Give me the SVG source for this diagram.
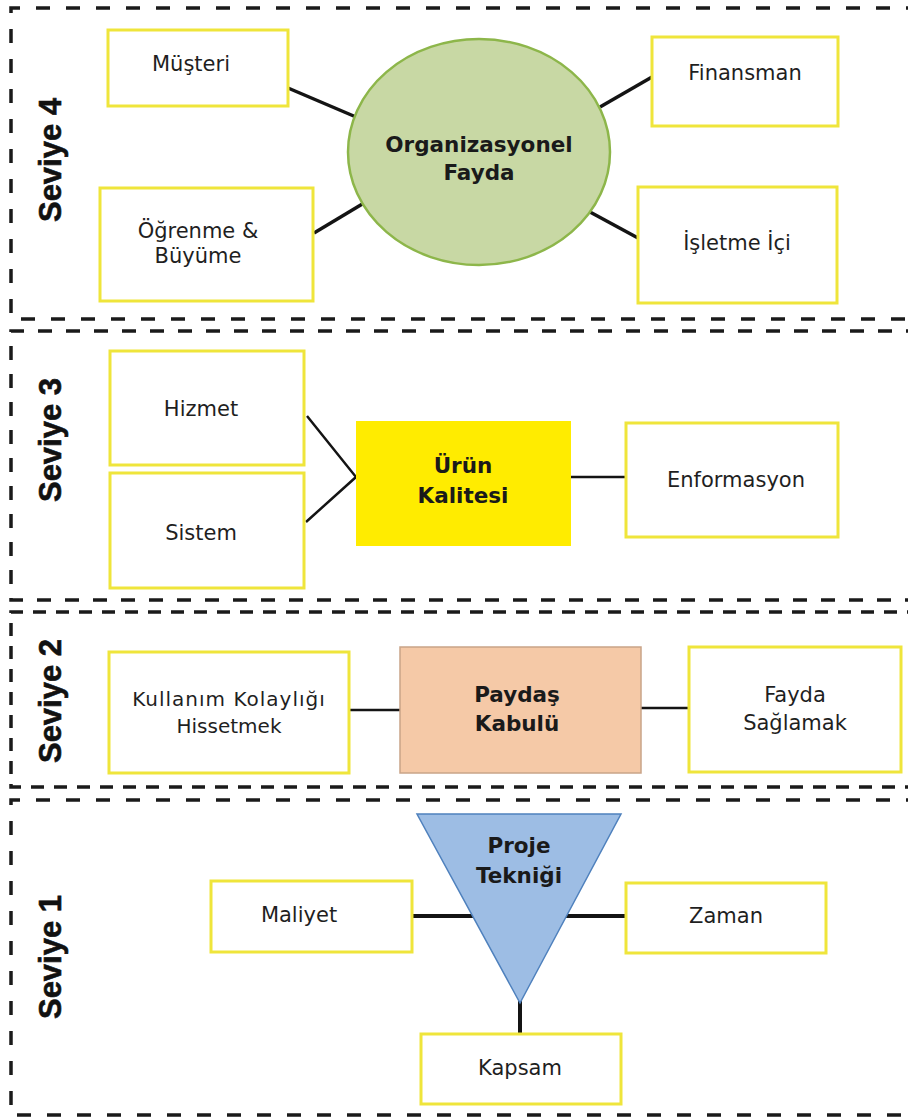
<svg xmlns="http://www.w3.org/2000/svg" width="908" height="1119" viewBox="0 0 908 1119">
  <style>
    .band { fill: none; stroke: #1a1a1a; stroke-width: 3.5; }
    .box { fill: #ffffff; stroke: #efe53b; stroke-width: 3; }
    .lbl { font-family: "DejaVu Sans", "Liberation Sans", sans-serif; font-size: 21px; fill: #1f1f1f; text-anchor: middle; }
    .hub { font-family: "DejaVu Sans", "Liberation Sans", sans-serif; font-size: 21.5px; font-weight: bold; fill: #1a1a1a; text-anchor: middle; }
    .lvl { font-family: "Liberation Sans", Arial, sans-serif; font-size: 31px; font-weight: bold; fill: #111111; text-anchor: middle; stroke: #111111; stroke-width: 0.6; }
    .link { stroke: #141414; fill: none; }
  </style>

  <rect width="908" height="1119" fill="#ffffff"/>

  <!-- level bands (open on the right edge) -->
  <g id="bands">
    <path class="band" d="M 920 8 H 11 V 319 H 920" stroke-dasharray="14 16"/>
    <path class="band" d="M 920 331 H 11 V 600 H 920" stroke-dasharray="14 14"/>
    <path class="band" d="M 920 612 H 11 V 787 H 920" stroke-dasharray="13 10"/>
    <path class="band" d="M 920 800 H 11 V 1115 H 920" stroke-dasharray="14 16"/>
  </g>

  <!-- level titles -->
  <g id="level-titles">
    <text class="lvl" transform="translate(61 160) rotate(-90)">Seviye 4</text>
    <text class="lvl" transform="translate(61 440) rotate(-90)">Seviye 3</text>
    <text class="lvl" transform="translate(61 701) rotate(-90)">Seviye 2</text>
    <text class="lvl" transform="translate(61 957) rotate(-90)">Seviye 1</text>
  </g>

  <!-- connectors -->
  <g id="connectors">
    <g stroke-width="3.5" class="link">
      <line class="link" x1="288" y1="88" x2="356" y2="117"/>
      <line class="link" x1="314" y1="233" x2="364" y2="203"/>
      <line class="link" x1="600" y1="107" x2="652" y2="77"/>
      <line class="link" x1="590" y1="212" x2="638" y2="238"/>
    </g>
    <g stroke-width="2.5" class="link">
      <polyline class="link" points="307,416 356,477 306,522"/>
      <line class="link" x1="571" y1="477" x2="626" y2="477"/>
      <line class="link" x1="349" y1="710" x2="400" y2="710"/>
      <line class="link" x1="641" y1="708" x2="689" y2="708"/>
    </g>
    <g stroke-width="4" class="link">
      <line class="link" x1="412" y1="916" x2="473" y2="916"/>
      <line class="link" x1="565" y1="916" x2="626" y2="916"/>
      <line class="link" x1="520" y1="1000" x2="520" y2="1034"/>
    </g>
  </g>

  <!-- Seviye 4 -->
  <g id="organizasyonel-fayda">
    <ellipse cx="479" cy="152" rx="131" ry="113" fill="#c8d8a4" stroke="#8db64a" stroke-width="2.5"/>
    <text class="hub" x="479" y="152">Organizasyonel</text>
    <text class="hub" x="479" y="180">Fayda</text>
  </g>
  <g id="musteri">
    <rect class="box" x="108" y="30" width="180" height="76"/>
    <text class="lbl" x="191" y="71">Müşteri</text>
  </g>
  <g id="ogrenme-buyume">
    <rect class="box" x="100" y="188" width="213" height="113"/>
    <text class="lbl" x="198" y="238">Öğrenme &amp;</text>
    <text class="lbl" x="198" y="263">Büyüme</text>
  </g>
  <g id="finansman">
    <rect class="box" x="652" y="37" width="186" height="89"/>
    <text class="lbl" x="745" y="80">Finansman</text>
  </g>
  <g id="isletme-ici">
    <rect class="box" x="638" y="187" width="199" height="116"/>
    <text class="lbl" x="737" y="250">İşletme İçi</text>
  </g>

  <!-- Seviye 3 -->
  <g id="hizmet">
    <rect class="box" x="110" y="351" width="194" height="114"/>
    <text class="lbl" x="201" y="416">Hizmet</text>
  </g>
  <g id="sistem">
    <rect class="box" x="110" y="473" width="194" height="115"/>
    <text class="lbl" x="201" y="540">Sistem</text>
  </g>
  <g id="urun-kalitesi">
    <rect x="356" y="421" width="215" height="125" fill="#ffec00"/>
    <text class="hub" x="463" y="473">Ürün</text>
    <text class="hub" x="463" y="503">Kalitesi</text>
  </g>
  <g id="enformasyon">
    <rect class="box" x="626" y="423" width="212" height="114"/>
    <text class="lbl" x="736" y="487">Enformasyon</text>
  </g>

  <!-- Seviye 2 -->
  <g id="kullanim-kolayligi">
    <rect class="box" x="109" y="652" width="240" height="121"/>
    <text class="lbl" x="229" y="706" style="font-size:20px; letter-spacing:1px">Kullanım Kolaylığı</text>
    <text class="lbl" x="229" y="733" style="font-size:20px">Hissetmek</text>
  </g>
  <g id="paydas-kabulu">
    <rect x="400" y="647" width="241" height="126" fill="#f5c9a7" stroke="#c9a488" stroke-width="1.5"/>
    <text class="hub" x="517" y="702">Paydaş</text>
    <text class="hub" x="517" y="731">Kabulü</text>
  </g>
  <g id="fayda-saglamak">
    <rect class="box" x="689" y="647" width="212" height="125"/>
    <text class="lbl" x="795" y="702">Fayda</text>
    <text class="lbl" x="795" y="730">Sağlamak</text>
  </g>

  <!-- Seviye 1 -->
  <g id="proje-teknigi">
    <polygon points="417,814 621,814 520,1003" fill="#9dbde4" stroke="#4f81bd" stroke-width="1.5"/>
    <text class="hub" x="519" y="853">Proje</text>
    <text class="hub" x="519" y="883">Tekniği</text>
  </g>
  <g id="maliyet">
    <rect class="box" x="211" y="881" width="201" height="71"/>
    <text class="lbl" x="299" y="922">Maliyet</text>
  </g>
  <g id="zaman">
    <rect class="box" x="626" y="883" width="200" height="70"/>
    <text class="lbl" x="726" y="923">Zaman</text>
  </g>
  <g id="kapsam">
    <rect class="box" x="421" y="1034" width="200" height="70"/>
    <text class="lbl" x="520" y="1075">Kapsam</text>
  </g>
</svg>
